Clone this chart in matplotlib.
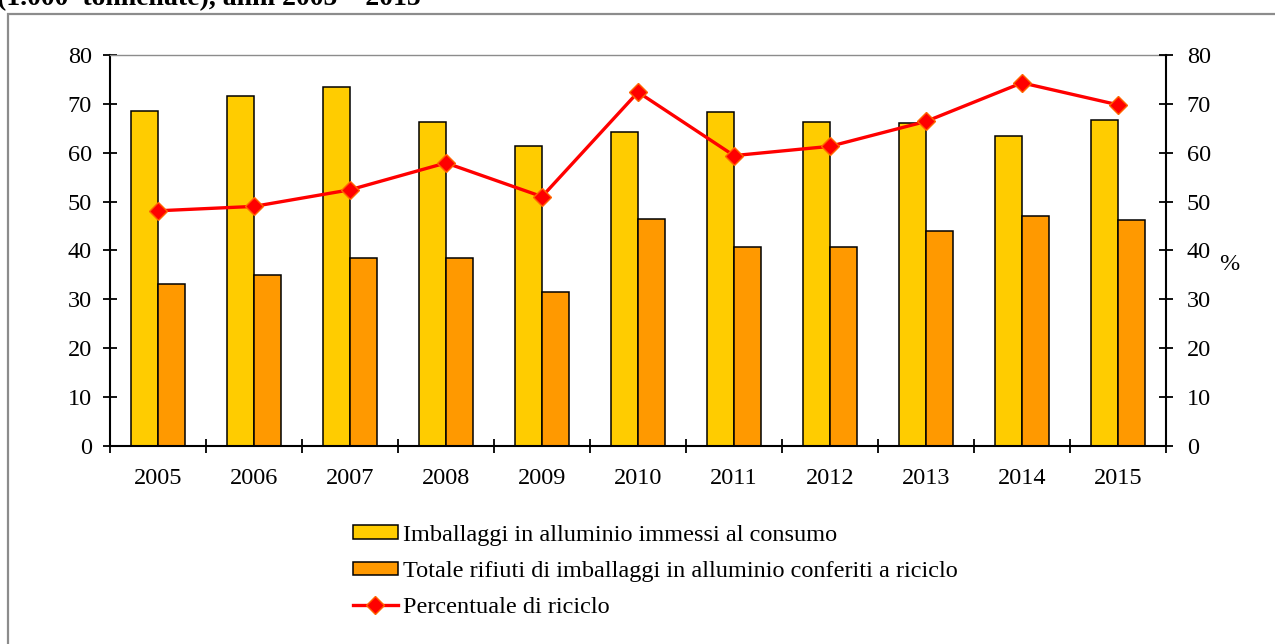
import matplotlib.pyplot as plt
from matplotlib.patches import Rectangle
import numpy as np

# data (1.000 tonnellate and %)
years = ["2005", "2006", "2007", "2008", "2009", "2010",
         "2011", "2012", "2013", "2014", "2015"]
immessi = [68.6, 71.7, 73.5, 66.3, 61.4, 64.2, 68.4, 66.3, 66.1, 63.5, 66.7]
riciclo = [33.2, 35.0, 38.5, 38.5, 31.4, 46.4, 40.7, 40.7, 43.9, 47.1, 46.3]
percentuale = [48.1, 49.0, 52.4, 57.9, 51.0, 72.4, 59.4, 61.3, 66.4, 74.3, 69.8]

lab_imm = "Imballaggi in alluminio immessi al consumo"
lab_ric = "Totale rifiuti di imballaggi in alluminio conferiti a riciclo"
lab_pct = "Percentuale di riciclo"

plt.rcParams["font.family"] = ["Liberation Serif", "DejaVu Serif"]
FS = 17.5

fig = plt.figure(figsize=(12.75, 6.44), dpi=100)
fig.patch.set_facecolor("white")

# outer frame (clipped at right and bottom like the source)
fig.patches.append(Rectangle((8 / 1275, -0.2), 1.2, 1 - 14 / 644 + 0.2,
                             transform=fig.transFigure, fill=False,
                             edgecolor="#8c8c8c", linewidth=1.6))
# title is cut off at the top edge in the source, too
fig.text(-0.002, 1 - 5 / 644, "(1.000  tonnellate), anni 2005 \u2013 2015",
         fontsize=20, fontweight="bold", va="baseline", ha="left")

ax = fig.add_axes([110 / 1275, 1 - 445.7 / 644, (1166 - 110) / 1275, (445.7 - 55) / 644])
x = np.arange(len(years))
w = 0.285
ax.bar(x - w / 2, immessi, w, color="#FFCC00", edgecolor="black", linewidth=1.1,
       label=lab_imm, zorder=2)
ax.bar(x + w / 2, riciclo, w, color="#FF9900", edgecolor="black", linewidth=1.1,
       label=lab_ric, zorder=2)
ax.set_xlim(-0.5, len(years) - 0.5)
ax.set_ylim(0, 80)
ax.set_yticks(range(0, 81, 10))
ax.set_xticks(np.arange(-0.5, len(years), 1.0))
ax.set_xticklabels([])
ax.set_xticks(x, minor=True)
ax.set_xticklabels(years, minor=True)
ax.tick_params(axis="x", which="major", direction="inout", length=10, width=1.3)
ax.tick_params(axis="x", which="minor", length=0, pad=16, labelsize=FS)
ax.tick_params(axis="y", direction="inout", length=10, width=1.3, pad=8, labelsize=FS)
for s in ["left", "bottom"]:
    ax.spines[s].set_linewidth(1.5)
ax.spines["right"].set_visible(False)
ax.spines["top"].set_color("#8c8c8c")
ax.spines["top"].set_linewidth(1.0)

ax2 = ax.twinx()
ax2.plot(x, percentuale, color="#FF0000", linewidth=2.4, marker="D", markersize=9.5,
         markerfacecolor="#FF0000", markeredgecolor="#FF6600", markeredgewidth=1.0,
         label=lab_pct, zorder=3)
ax2.set_ylim(0, 80)
ax2.set_yticks(range(0, 81, 10))
ax2.tick_params(axis="y", direction="inout", length=10, width=1.3, pad=10, labelsize=FS)
ax2.spines["right"].set_linewidth(1.5)
for s in ["left", "top", "bottom"]:
    ax2.spines[s].set_visible(False)
fig.text(1219 / 1275, 1 - 264 / 644, "%", fontsize=FS, va="center", ha="left")

h1, l1 = ax.get_legend_handles_labels()
h2, l2 = ax2.get_legend_handles_labels()
fig.legend(h1 + h2, l1 + l2, loc="upper left", bbox_to_anchor=(353 / 1275, 1 - 525 / 644),
           frameon=False, fontsize=FS, handlelength=1.85, handleheight=0.5,
           handletextpad=0.2, labelspacing=0.62, borderpad=0, borderaxespad=0)

fig.savefig("out.png", dpi=100)
